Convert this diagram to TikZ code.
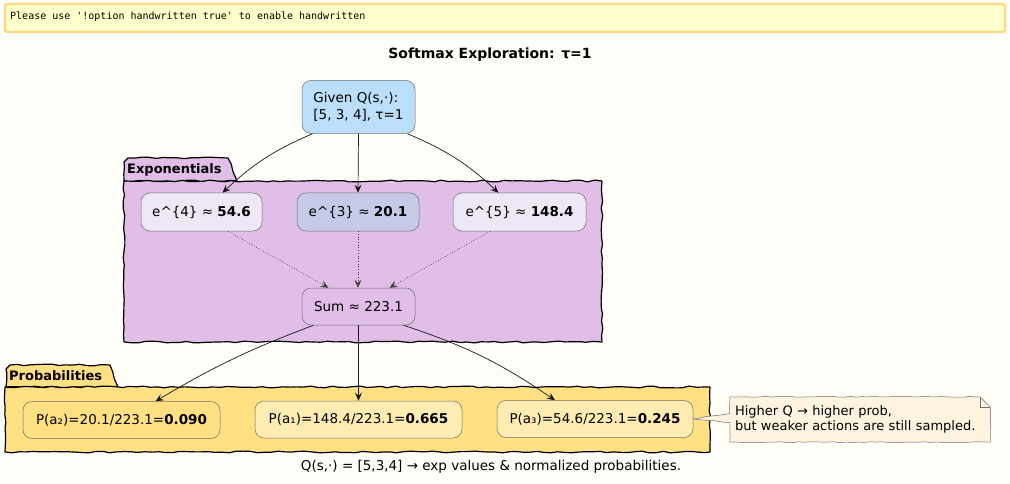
\documentclass[tikz,border=0pt]{standalone}
\usepackage{fontspec}
\setmainfont{DejaVu Sans}
\setmonofont{DejaVu Sans Mono}
\usetikzlibrary{decorations.pathmorphing,arrows.meta}
\definecolor{cBg}{HTML}{FFFDF7}
\definecolor{cBanner}{HTML}{FFFFCC}
\definecolor{cBannerLine}{HTML}{FFD97F}
\definecolor{cBlue}{HTML}{BBDEFB}
\definecolor{cExp}{HTML}{E1BEE7}
\definecolor{cLav}{HTML}{EDE7F6}
\definecolor{cIndigo}{HTML}{C5CAE9}
\definecolor{cProb}{HTML}{FFE082}
\definecolor{cProbLight}{HTML}{FFECB3}
\definecolor{cNote}{HTML}{FFF3E0}
\definecolor{cLine}{HTML}{6E6E6E}
\begin{document}
\begin{tikzpicture}[x=1pt,y=-1pt,
  txt/.style={font=\fontsize{13.5}{16.5}\selectfont},
  box/.style={txt, draw=cLine, line width=0.5pt, rounded corners=9pt, inner sep=0pt},
  pkg/.style={draw=black, line width=1.2pt, line join=round,
    decorate, decoration={random steps,segment length=7pt,amplitude=0.9pt}},
  pkglabel/.style={font=\fontsize{13}{16}\selectfont\bfseries, inner sep=0pt, anchor=west},
  arr/.style={draw=black!90, line width=0.7pt, -{Stealth[length=8pt,width=7pt,inset=3pt]}},
  darr/.style={arr, dotted, draw=black!75}
]
\pgfmathsetseed{7}
% background and bounding box
\fill[cBg] (0,0) rectangle (1010,484);
\useasboundingbox (0,0) rectangle (1010,484);

% banner
\draw[draw=cBannerLine, fill=cBanner, line width=2.4pt, rounded corners=2.5pt] (5,4) rectangle (1005,32);
\node[font=\fontsize{10}{12}\ttfamily, anchor=west, inner sep=0pt] (banner) at (10,17)
  {Please use '!option handwritten true' to enable handwritten};

% title
\node[font=\fontsize{14}{16}\selectfont\bfseries, inner sep=0pt] (title) at (490,55) {Softmax Exploration: τ=1};

% Exponentials package
\path[pkg, fill=cExp] (124,181) -- (124,162) -- (128,158) -- (228,158) -- (237,181) -- cycle;
\path[pkg, fill=cExp] (124,181) rectangle (602,342);
\node[pkglabel] (explbl) at (127,170) {Exponentials};

% Probabilities package
\path[pkg, fill=cProb] (6,387) -- (6,369) -- (10,365) -- (110,365) -- (118,387) -- cycle;
\path[pkg, fill=cProb] (5,387) rectangle (710,452);
\node[pkglabel] (prlbl) at (9,376) {Probabilities};

% nodes
\node[box, fill=cBlue, minimum width=113pt, minimum height=53pt, align=left] (given) at (358.5,107)
  {Given Q(s,·):\\{}[5, 3, 4], τ=1};
\node[box, fill=cLav, minimum width=121pt, minimum height=38pt] (e4) at (201.5,212)
  {e\textasciicircum\{4\} ≈ \textbf{54.6}};
\node[box, fill=cIndigo, minimum width=122pt, minimum height=38pt] (e3) at (358,212)
  {e\textasciicircum\{3\} ≈ \textbf{20.1}};
\node[box, fill=cLav, minimum width=133pt, minimum height=38pt] (e5) at (519.5,212)
  {e\textasciicircum\{5\} ≈ \textbf{148.4}};
\node[box, fill=cExp, minimum width=113pt, minimum height=37pt] (sum) at (358.5,306.5)
  {Sum ≈ 223.1};
\node[box, fill=cProb, minimum width=197pt, minimum height=37pt] (p2) at (121.5,420)
  {P(a₂)=20.1/223.1=\textbf{0.090}};
\node[box, fill=cProbLight, minimum width=207pt, minimum height=37pt] (p1) at (358.5,419.5)
  {P(a₁)=148.4/223.1=\textbf{0.665}};
\node[box, fill=cProbLight, minimum width=196pt, minimum height=37pt] (p3) at (595,419)
  {P(a₃)=54.6/223.1=\textbf{0.245}};

% arrows
\draw[arr] ([xshift=-46pt]given.south) to[bend right=10] ([xshift=21pt]e4.north);
\draw[arr] (given.south) -- (e3.north);
\draw[arr] ([xshift=49pt]given.south) to[bend left=10] ([xshift=-21pt]e5.north);
\draw[darr] ([xshift=26.5pt]e4.south) -- ([xshift=-30pt]sum.north);
\draw[darr] (e3.south) -- ([xshift=-0.5pt]sum.north);
\draw[darr] ([xshift=-29pt]e5.south) -- ([xshift=31pt]sum.north);
\draw[arr] ([xshift=-45pt]sum.south) to[bend right=5] ([xshift=34pt]p2.north);
\draw[arr] (sum.south) -- (p1.north);
\draw[arr] ([xshift=45pt]sum.south) to[bend left=8] ([xshift=-40pt]p3.north);

% note
\node[txt, text width=250pt, align=left, inner sep=5pt, minimum height=45pt] (note) at (860,419.5) {};
\path[draw=cLine, fill=cNote, line width=0.5pt, decorate,
  decoration={random steps,segment length=6pt,amplitude=0.5pt}]
  (note.north west) -- ([xshift=-10pt]note.north east) -- ([yshift=-10pt]note.north east)
  -- (note.south east) -- (note.south west) -- ([yshift=-3pt]note.west)
  -- (p3.east) -- ([yshift=6pt]note.west) -- cycle;
\draw[draw=cLine, line width=0.5pt] ([xshift=-10pt]note.north east) -- ([xshift=-10pt,yshift=-10pt]note.north east) -- ([yshift=-10pt]note.north east);
\node[font=\fontsize{13}{15}\selectfont, text width=250pt, align=left, inner sep=5pt] (notetext) at (note.center)
  {Higher Q → higher prob,\\but weaker actions are still sampled.};

% caption
\node[txt, inner sep=0pt] (caption) at (491,467) {Q(s,·) = [5,3,4] → exp values \& normalized probabilities.};
\end{tikzpicture}
\end{document}
